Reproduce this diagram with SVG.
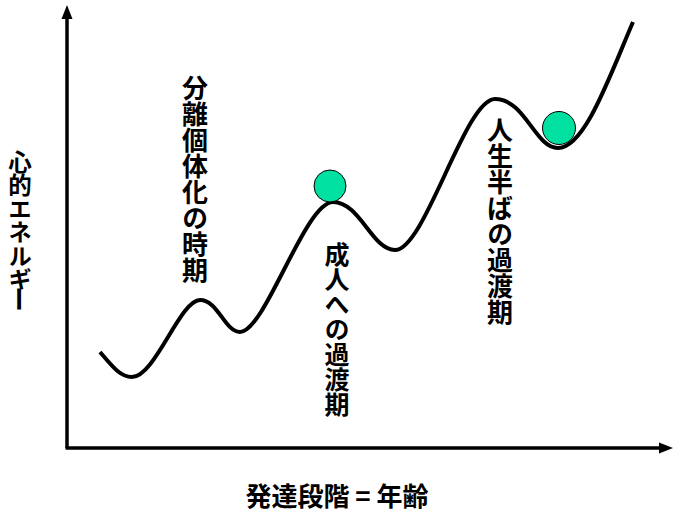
<svg xmlns="http://www.w3.org/2000/svg" width="674" height="512" viewBox="0 0 674 512">
<style>
.lbl{font-family:"Noto Sans CJK JP","Noto Sans",sans-serif;font-size:26px;font-weight:bold;fill:#000}
.vt{writing-mode:vertical-rl}
.ax{stroke:#000;stroke-width:3.5;fill:none}
.ball{fill:#00E0A0;stroke:#000;stroke-width:1}
</style>
<rect width="674" height="512" fill="#fff"/>
<g id="connectors">
<path class="ax" d="M67,448 L67,17"/>
<polygon points="67,5 61.5,19 72.5,19" fill="#000"/>
<path class="ax" d="M65.5,448 L661,448"/>
<polygon points="673,448 659,442.5 659,453.5" fill="#000"/>
<path id="curve" d="M100,352 C112,366 120,377 132,377 C155,377 180,300 200,300 C218,300 225,332 240,332 C265,332 305,202 333,202 C360,202 372,250 395,250 C425,250 465,99 495,99 C525,99 535,148 558,148 C585,148 610,75 633,22" fill="none" stroke="#000" stroke-width="4"/>
</g>
<g id="ball1"><circle class="ball" cx="330" cy="186" r="16"/></g>
<g id="ball2"><circle class="ball" cx="559" cy="128" r="16.5"/></g>
<g id="ylabel">
<text class="lbl vt" x="20" y="150" style="font-size:23.5px">心的エネルギ</text>
<text class="lbl" transform="translate(20,299) rotate(90)" text-anchor="middle" dominant-baseline="central" style="font-size:26px">ー</text>
</g>
<g id="label1"><text class="lbl vt" x="195" y="75">分離個体化の時期</text></g>
<g id="label2"><text class="lbl vt" x="337" y="242" style="font-size:25px">成人への過渡期</text></g>
<g id="label3"><text class="lbl vt" x="500" y="117">人生半ばの過渡期</text></g>
<g id="xlabel"><text class="lbl" x="337" y="506" text-anchor="middle">発達段階 = 年齢</text></g>
</svg>
